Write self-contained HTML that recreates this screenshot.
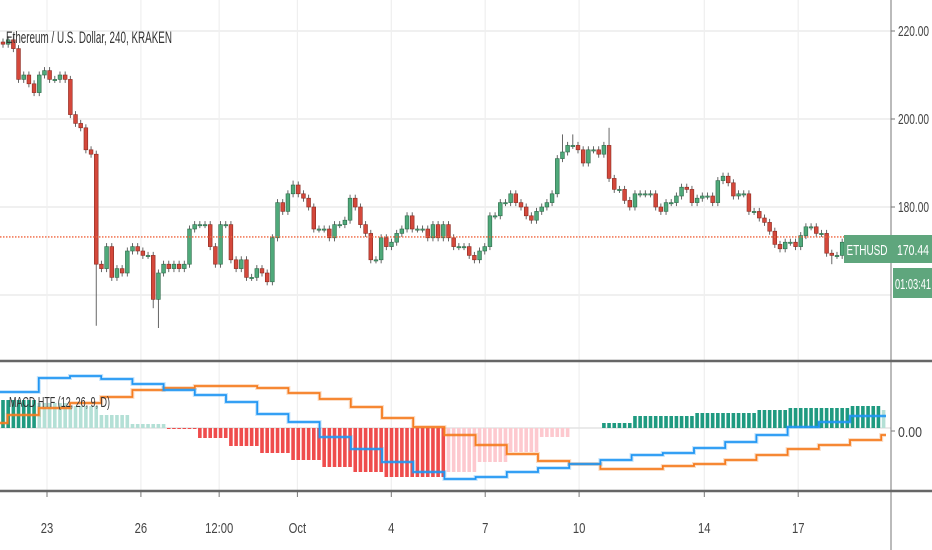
<!DOCTYPE html>
<html><head><meta charset="utf-8"><style>
html,body{margin:0;padding:0;background:#fff;}
svg{display:block;font-family:"Liberation Sans",sans-serif;}
</style></head><body>
<svg id="chart" width="932" height="550" viewBox="0 0 932 550">
<g id="grid"></g>
<g id="candles"></g>
<g id="macd"></g>
<g id="axes"></g>
<text x="6" y="43" font-size="17" fill="#333" textLength="166" lengthAdjust="spacingAndGlyphs">Ethereum / U.S. Dollar, 240, KRAKEN</text>
<text x="9" y="407" font-size="15" fill="#333" textLength="101" lengthAdjust="spacingAndGlyphs">MACD HTF (12, 26, 9, D)</text>
<rect x="844" y="235" width="47" height="28" fill="#5fa67d"/>
<text x="867" y="255" font-size="15" fill="#fff" text-anchor="middle" textLength="41" lengthAdjust="spacingAndGlyphs">ETHUSD</text>
<rect x="891" y="235" width="41" height="28" fill="#5fa67d"/>
<text x="913" y="255" font-size="15" fill="#fff" text-anchor="middle" textLength="32" lengthAdjust="spacingAndGlyphs">170.44</text>
<rect x="893" y="268" width="39" height="30" fill="#5fa67d"/>
<text x="913" y="289" font-size="15" fill="#fff" text-anchor="middle" textLength="36" lengthAdjust="spacingAndGlyphs">01:03:41</text>
</svg>
<script>
const closes=[217,218,216,209,210,208,206,210,211,209,209,210,209,201,199,198,193,192,167,166,171,164,166,165,170,171,170,169,169,159,165,167,166,167,166,167,175,176,176,176,
171,167,176,176,168,166,168,164,164,166,165,163,173,181,179,183,185,183,182,180,175,175,175,173,176,176,177,182,180,176,174,168,168,173,171,172,174,175,178,175,175,175,173,176,173,176,173,171,171,171,
169,168,170,171,178,178,181,181,183,181,180,178,177,179,180,181,183,191,192.5,194,194,193,190,193,193,192,194,186.5,184,184,181.5,180,183,183,183,183,180,179,181,181,182.5,184.5,184,181,182,182.5,182.5,181,186,187,185.5,182.5,183,183,179,179,177.5,176.5,174.5,171.5,170.5,172,172,171,173.5,175.5,175.5,174,174,169.5,169,169,172,171,172,172,171,171,170.5];
const wickIdx=[2,18,29,30,56,108,110,117,160];
const wickHigh=[219,null,null,null,186,196.5,196.5,198,null];
const wickLow=[null,153,157,152.5,null,null,null,null,167];
const priceTicks=[220,200,180,160];
const priceTickLabels=["220.00","200.00","180.00",""];
const currentLine=173.2;
const timeTicks=[23,26,28.5,31,34,37,40,44,47];
const timeLabels=["23","26","12:00","Oct","4","7","10","14","17"];
const macdLine=[3.6,3.6,5.0,5.2,4.9,4.4,3.8,3.3,2.6,1.4,0.6,-0.9,-2.1,-3.4,-4.4,-5.1,-4.9,-4.4,-4.0,-3.6,-3.2,-2.7,-2.5,-2.0,-1.4,-0.7,0.1,0.6,1.2,1.2];
const signalLine=[0.5,1.3,2.0,2.5,3.1,3.8,4.0,4.2,4.2,4.0,3.5,2.9,2.1,1.0,0.1,-0.7,-1.7,-2.6,-3.3,-3.6,-4.1,-4.1,-3.8,-3.6,-3.2,-2.7,-2.1,-1.7,-1.2,-0.7];
const histValues=[2.8,2.8,2.5,2.2,1.3,0.4,-0.1,-1.0,-1.8,-2.5,-3.2,-3.9,-4.4,-4.9,-4.9,-4.4,-3.4,-2.4,-0.9,0,0.5,1.2,1.2,1.5,1.5,1.8,2.0,2.0,2.2,1.8];

const NS="http://www.w3.org/2000/svg";
function mk(tag,attrs,parent){const e=document.createElementNS(NS,tag);for(const k in attrs)e.setAttribute(k,attrs[k]);parent.appendChild(e);return e;}
const yP=p=>31+(220-p)*4.4;
const xC=i=>3+i*5.18;
const yM=v=>428-v*10;
const dayX=d=>47+(d-23)*31.3;
const segStart=k=>7.6+31.2*(k-1);
const segOf=x=>Math.max(0,Math.min(macdLine.length-1,Math.floor((x-7.6)/31.2)+1));
const grid=document.getElementById('grid'),cg=document.getElementById('candles'),mg=document.getElementById('macd'),ax=document.getElementById('axes');

priceTicks.forEach((p,i)=>{const l=mk('line',{x1:0,x2:891,y1:yP(p),y2:yP(p),stroke:'#ececec','stroke-width':1.5},grid);

});
timeTicks.forEach((d,i)=>{const x=dayX(d);const l=mk('line',{x1:x,x2:x,y1:0,y2:491,stroke:'#efefef','stroke-width':1.2},grid);


const t=mk('line',{x1:x,x2:x,y1:492,y2:497,stroke:'#777'},ax);


const tx=mk('text',{x:x,y:533,'font-size':15,fill:'#444','text-anchor':'middle',transform:'translate('+x+' 0) scale(0.75 1) translate('+(-x)+' 0)'},ax);tx.textContent=timeLabels[i];

});
const zl=mk('line',{x1:0,x2:891,y1:yM(0),y2:yM(0),stroke:'#e4e4e4','stroke-width':1.5},grid);



closes.forEach((c,i)=>{
 const o=i>0?closes[i-1]:c+0.5; const x=xC(i);
 let hi=Math.max(o,c)+0.8, lo=Math.min(o,c)-0.8;
 const w=wickIdx.indexOf(i); if(w>=0){if(wickHigh[w]!=null)hi=wickHigh[w]; if(wickLow[w]!=null)lo=wickLow[w];}
 const up=c>=o; const fill=up?'#4fa97a':'#d4483b', st=up?'#2d6a49':'#8b2b22';
 const g=mk('g',{},cg);
 
 
 mk('line',{x1:x,x2:x,y1:yP(hi),y2:yP(lo),stroke:'#555','stroke-width':0.9},g);
 const top=yP(Math.max(o,c)), h=Math.max(1.2,yP(Math.min(o,c))-top);
 mk('rect',{x:x-1.9,y:top,width:3.8,height:h,fill:fill,stroke:st,'stroke-width':0.6},g);
});
const cl=mk('line',{x1:0,x2:891,y1:yP(currentLine),y2:yP(currentLine),stroke:'#f0643c','stroke-width':1.3,'stroke-dasharray':'1.5,1.5'},cg);



for(let i=0;i<171;i++){
 const x=xC(i); if(x>888)break; const s=segOf(x); const v=histValues[s]; const pv=s>0?histValues[s-1]:v;
 if(v===0)continue;
 let col; if(v>0) col=(v>=pv)?'#1f9a80':'#b4e0d6'; else col=(v<=pv)?'#ef4c4c':'#fdc9cf';
 const y0=yM(0),y1=yM(v);
 const r=mk('rect',{x:x-1.8,y:Math.min(y0,y1),width:3.6,height:Math.max(1,Math.abs(y1-y0)),fill:col},mg);
 
 
}
function stepPath(arr){let d='';for(let s=0;s<arr.length;s++){const x1=Math.min(886,segStart(s+1));const xs=s===0?0:segStart(s);const y=yM(arr[s]);d+=(s===0?'M':'L')+xs.toFixed(1)+','+y.toFixed(1)+'L'+x1.toFixed(1)+','+y.toFixed(1);}return d;}
[[signalLine,'#f57c20','signal-line'],[macdLine,'#2196f3','macd-line']].forEach(([arr,col,nm])=>{
 const p0=mk('path',{d:stepPath(arr),fill:'none',stroke:col,'stroke-opacity':0.25,'stroke-width':4},mg);
 
 
 const p=mk('path',{d:stepPath(arr),fill:'none',stroke:col,'stroke-width':1.8},mg);
 
 
});

const ra=mk('line',{x1:891,x2:891,y1:0,y2:550,stroke:'#777','stroke-width':1},ax);


[361,491].forEach(y=>{const l=mk('line',{x1:0,x2:932,y1:y,y2:y,stroke:'#666','stroke-width':2.5},ax);

});
priceTicks.forEach((p,i)=>{if(!priceTickLabels[i])return;const y=yP(p);
 const tk=mk('line',{x1:891,x2:895,y1:y,y2:y,stroke:'#777'},ax);
 
 
 const t=mk('text',{x:898,y:y+5,'font-size':15,fill:'#444',textLength:31,lengthAdjust:'spacingAndGlyphs'},ax);t.textContent=priceTickLabels[i];
 
 });
const zt=mk('line',{x1:891,x2:895,y1:yM(0)+3,y2:yM(0)+3,stroke:'#777'},ax);


const zlab=mk('text',{x:898,y:yM(0)+9,'font-size':15,fill:'#444',textLength:24,lengthAdjust:'spacingAndGlyphs'},ax);zlab.textContent='0.00';


</script>
</body></html>
